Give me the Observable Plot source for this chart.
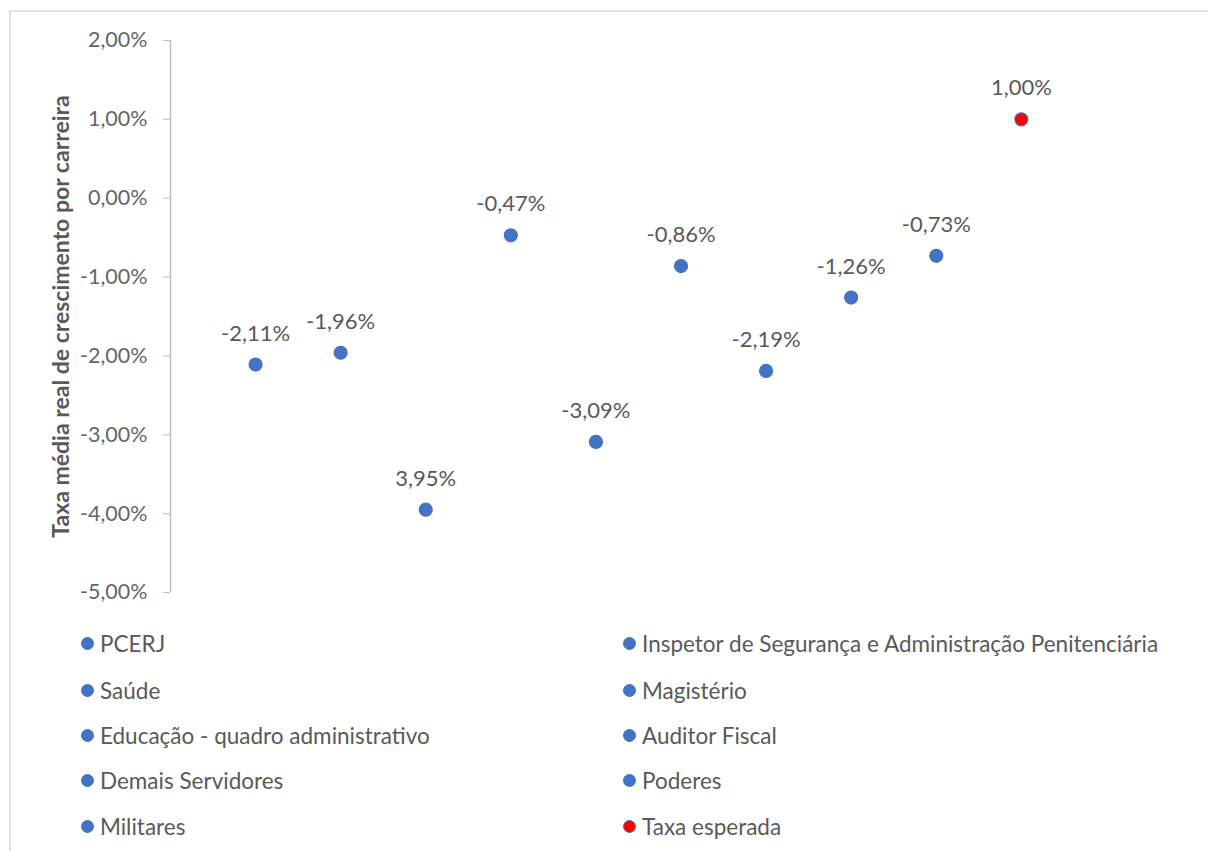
<!DOCTYPE html>
<html>
<head>
<meta charset="utf-8">
<script src="https://cdn.jsdelivr.net/npm/d3@7"></script>
<script src="https://cdn.jsdelivr.net/npm/@observablehq/plot@0.6"></script>
<style>
  html, body { margin: 0; padding: 0; background: #fff; }
  #wrap { position: relative; width: 1208px; height: 851px; overflow: hidden; font-family: Lato, "Open Sans", sans-serif; }
  #frame { position: absolute; left: 9px; top: 10px; width: 1300px; height: 900px; border-top: 2px solid #e3e3e3; border-left: 2px solid #e3e3e3; box-sizing: border-box; }
  #chart { position: absolute; left: 0; top: 0; }
  .leg { position: absolute; display: flex; align-items: center; font-size: 22.5px; color: #595959; white-space: nowrap; }
  .leg .m { width: 13px; height: 13px; border-radius: 50%; margin-right: 6px; box-sizing: border-box; }
</style>
</head>
<body>
<div id="wrap">
  <div id="frame"></div>
  <div id="chart"></div>
  <div id="legend"></div>
</div>
<script>
const series = ["PCERJ", "Inspetor de Segurança e Administração Penitenciária", "Saúde", "Magistério",
  "Educação - quadro administrativo", "Auditor Fiscal", "Demais Servidores", "Poderes", "Militares", "Taxa esperada"];
const positions = [1, 2, 3, 4, 5, 6, 7, 8, 9, 10];
const values = [-2.11, -1.96, -3.95, -0.47, -3.09, -0.86, -2.19, -1.26, -0.73, 1.00];
const labels = ["-2,11%", "-1,96%", "3,95%", "-0,47%", "-3,09%", "-0,86%", "-2,19%", "-1,26%", "-0,73%", "1,00%"];
const fills = ["#4472C4", "#4472C4", "#4472C4", "#4472C4", "#4472C4", "#4472C4", "#4472C4", "#4472C4", "#4472C4", "#FF0000"];
const yTicks = [2, 1, 0, -1, -2, -3, -4, -5];
const yTitle = "Taxa média real de crescimento por carreira";

const data = series.map((s, i) => ({name: s, x: positions[i], y: values[i], label: labels[i], fill: fills[i]}));
const fmt = d => d.toFixed(2).replace(".", ",") + "%";

const plot = Plot.plot({
  width: 1208,
  height: 612,
  marginLeft: 170,
  marginRight: 17,
  marginTop: 40,
  marginBottom: 20,
  style: {fontFamily: "Lato, 'Open Sans', sans-serif", background: "transparent"},
  x: {domain: [0, 12], axis: null},
  y: {domain: [-5, 2]},
  marks: [
    Plot.axisY({ticks: yTicks, tickFormat: fmt, tickSize: 7, tickPadding: 16, stroke: "#bfbfbf", fill: "#666666", fontSize: 21.5, label: null}),
    Plot.ruleX([0], {y1: -5, y2: 2, stroke: "#bfbfbf", strokeWidth: 1.5}),
    Plot.text([yTitle], {frameAnchor: "left", dx: -109, rotate: -90, textAnchor: "middle", fontWeight: "bold", fontSize: 23, fill: "#595959"}),
    Plot.dot(data, {x: "x", y: "y", r: 6.5, fill: "fill", stroke: "#4472C4", strokeWidth: 1.2}),
    Plot.text(data, {x: "x", y: "y", text: "label", dy: -31, fontSize: 22, fill: "#595959"})
  ]
});
document.getElementById("chart").appendChild(plot);

// Legend, two columns, row-wise order
const legend = document.getElementById("legend");
const rowY = [643, 690, 735, 780, 826];
const colX = [81, 623];
series.forEach((s, i) => {
  const row = Math.floor(i / 2), col = i % 2;
  const el = document.createElement("div");
  el.className = "leg";
  el.style.left = colX[col] + "px";
  el.style.top = (rowY[row] - 15) + "px";
  el.style.height = "30px";
  const m = document.createElement("span");
  m.className = "m";
  m.style.background = fills[i];
  m.style.border = "1px solid #4472C4";
  const t = document.createElement("span");
  t.textContent = s;
  el.appendChild(m); el.appendChild(t);
  legend.appendChild(el);
});
</script>
</body>
</html>
